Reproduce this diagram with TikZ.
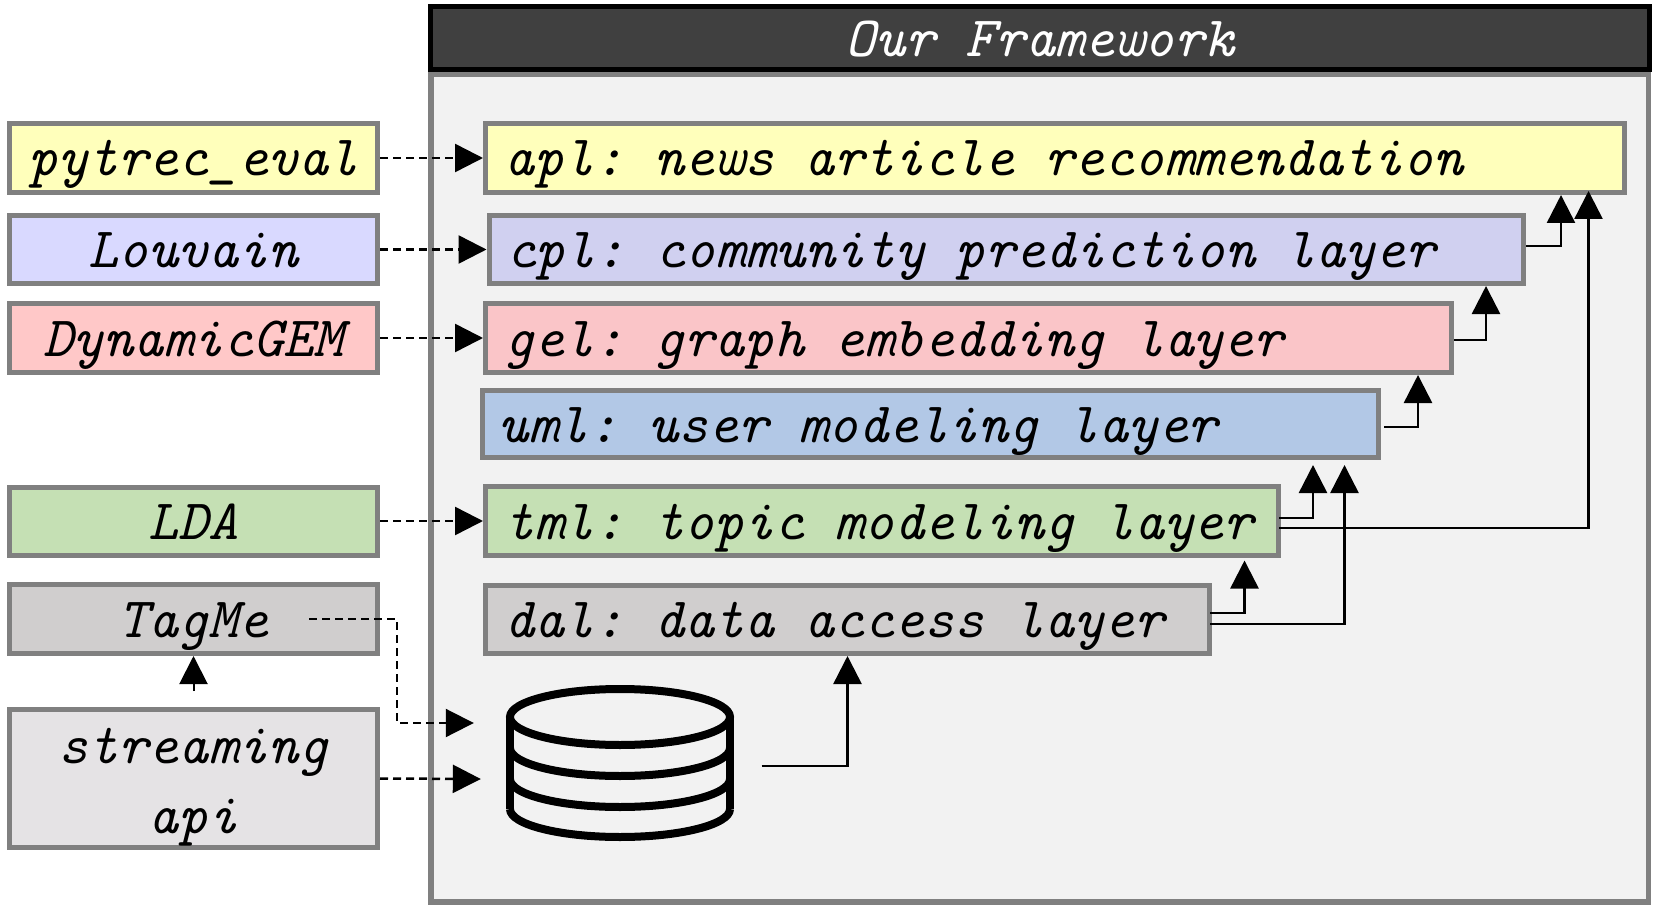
\documentclass[tikz,border=0pt]{standalone}
\usepackage{tikz}
\usetikzlibrary{arrows.meta}
\usetikzlibrary{positioning}
\definecolor{boxline}{HTML}{808080}
\definecolor{panelcol}{HTML}{F2F2F2}
\definecolor{headcol}{HTML}{404040}
\definecolor{yellowcol}{HTML}{FFFFBB}
\definecolor{lilaccol}{HTML}{D9D9FF}
\definecolor{cplcol}{HTML}{D0D0F0}
\definecolor{pinkcol}{HTML}{FFC8C8}
\definecolor{gelcol}{HTML}{FAC5C8}
\definecolor{umlcol}{HTML}{B2C8E6}
\definecolor{greencol}{HTML}{C5E0B4}
\definecolor{graycol}{HTML}{D0CECE}
\definecolor{streamcol}{HTML}{E5E3E5}
\tikzstyle{box}=[rectangle,draw=boxline,line width=5pt,inner sep=0pt,text=black,align=center,font=\fontsize{57.1}{70}\selectfont\ttfamily\itshape\frenchspacing]
\tikzstyle{tool}=[box,minimum width=368pt,text height=42pt,text depth=6pt]
\tikzstyle{layer}=[box,align=flush left,inner xsep=19pt,text height=42pt,text depth=6pt]
\tikzstyle{edge}=[draw,line width=2.5pt,-{Triangle[length=28pt,width=28pt]}]
\tikzstyle{dashedge}=[edge,dashed,dash pattern=on 8pt off 5pt,line width=2.5pt]
\tikzstyle{dbline}=[draw,line width=8pt]

\begin{document}
\begin{tikzpicture}[x=1pt,y=-1pt]
	\useasboundingbox (0,0) rectangle (1660,912);
	\node[rectangle,draw=boxline,line width=5.5pt,fill=panelcol,minimum width=1217.5pt,minimum height=827.5pt] (panel) at (1039.75,488.25) {};
	\node[rectangle,draw=black,line width=5pt,fill=headcol,minimum width=1219pt,minimum height=63.5pt,inner sep=0pt,text=white,font=\fontsize{57.1}{70}\selectfont\ttfamily\itshape,text height=42pt,text depth=6pt] (head) at (1040,38.25) {Our Framework};
	
	% left column
	\node[tool,fill=yellowcol,minimum height=69pt] (pytrec) at (193.5,158) {pytrec\_eval};
	\node[tool,fill=lilaccol,minimum height=68pt] (louvain) at (193.5,249.5) {Louvain};
	\node[tool,fill=pinkcol,minimum height=69pt] (dyngem) at (193.5,338) {DynamicGEM};
	\node[tool,fill=greencol,minimum height=68pt] (lda) at (193.5,521) {LDA};
	\node[tool,fill=graycol,minimum height=69pt] (tagme) at (193.5,619) {TagMe};
	\node[box,fill=streamcol,minimum width=368pt,minimum height=138pt] (stream) at (193.5,778.5) {\rule{0pt}{52pt}streaming\\api};
	
	% layers
	\node[layer,fill=yellowcol,text width=1101pt,minimum height=69pt] (apl) at (1055,158) {apl: news article recommendation};
	\node[layer,fill=cplcol,inner xsep=17pt,text width=1000.5pt,minimum height=68pt] (cpl) at (1006.25,249.5) {cpl: community prediction layer};
	\node[layer,fill=gelcol,text width=928pt,minimum height=69pt] (gel) at (968.5,338) {gel: graph embedding layer};
	\node[layer,fill=umlcol,inner xsep=16pt,text width=864pt,minimum height=67pt] (uml) at (930.5,424) {uml: user modeling layer};
	\node[layer,fill=greencol,text width=755pt,minimum height=69pt] (tml) at (882,521) {tml: topic modeling layer};
	\node[layer,fill=graycol,text width=686pt,minimum height=68pt] (dal) at (847.5,619.5) {dal: data access layer};
	
	% database
	\node[rectangle,minimum width=229pt,minimum height=154pt,inner sep=0pt] (db) at (620,763) {};
	\draw[dbline] (620,717) ellipse [x radius=110pt,y radius=28pt];
	\draw[dbline] (510,717) -- (510,809);
	\draw[dbline] (730,717) -- (730,809);
	\foreach \ypos in {748,779,809}
		\draw[dbline] (510,\ypos) arc [start angle=180,end angle=360,x radius=110pt,y radius=28pt];
	\coordinate (dbtop) at ([xshift=-31.5pt,yshift=40pt]db.west);
	\coordinate (dbmid) at ([xshift=-24.5pt,yshift=-16pt]db.west);
	\coordinate (tagbend) at (397,723);
	
	\draw[dashedge] (pytrec.east) -- (apl.west);
	\draw[dashedge] (louvain.east) -- (cpl.west);
	\draw[dashedge] (dyngem.east) -- (gel.west);
	\draw[dashedge] (lda.east) -- (tml.west);
	\draw[dashedge] (stream.east) -- (dbmid);
	\draw[dashedge,line width=2pt] ([xshift=115.5pt]tagme.center) -| (tagbend) -- (dbtop);
	\draw[dashedge,line width=2pt] ([yshift=16pt]stream.north) -- (tagme.south);
	
	\draw[edge] ([xshift=27pt,yshift=-3pt]db.east) -| (dal.south);
	\draw[edge] ([xshift=-2pt,yshift=6.5pt]dal.east) -| ([xshift=-36.5pt,yshift=-2.5pt]tml.south east);
	\draw[edge] ([xshift=-2pt,yshift=-4.5pt]dal.east) -| ([xshift=-36.5pt,yshift=-5pt]uml.south east);
	\draw[edge] ([xshift=-2pt,yshift=3pt]tml.east) -| ([xshift=-68pt,yshift=-5pt]uml.south east);
	\draw[edge] ([xshift=-2pt,yshift=-7pt]tml.east) -| ([xshift=-38.5pt,yshift=4pt]apl.south east);
	\draw[edge] ([xshift=3pt,yshift=-3pt]uml.east) -| ([xshift=-36pt]gel.south east);
	\draw[edge] ([yshift=-2pt]gel.east) -| ([xshift=-40pt]cpl.south east);
	\draw[edge] ([yshift=3.5pt]cpl.east) -| ([xshift=-66pt]apl.south east);
\end{tikzpicture}
\end{document}
